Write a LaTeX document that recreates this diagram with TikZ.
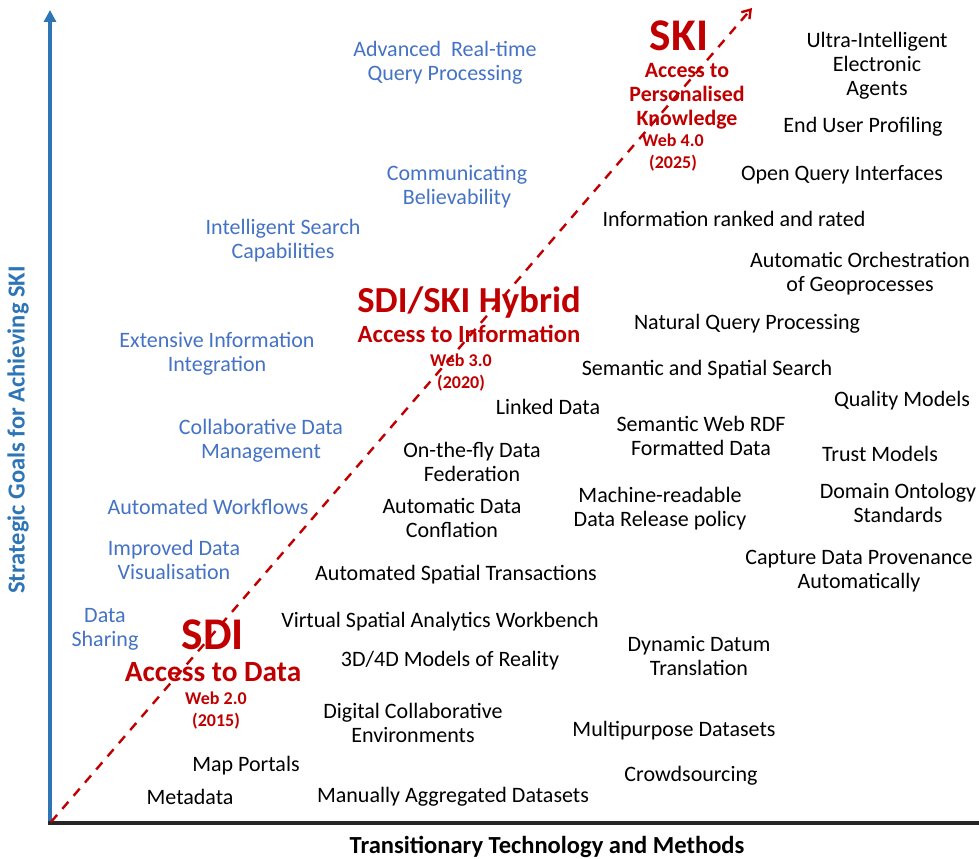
\documentclass[tikz,border=0pt]{standalone}
\usepackage{fontspec}
\setmainfont{Carlito}
\usepackage{tikz}
\usetikzlibrary{arrows.meta}

\definecolor{goalblue}{RGB}{68,114,196}
\definecolor{axisblue}{RGB}{46,117,182}
\definecolor{skired}{RGB}{192,0,0}

\tikzset{
  goal/.style={text=goalblue,align=center,font=\fontsize{16.5}{18}\selectfont},
  tech/.style={text=black,align=center,font=\fontsize{16.5}{18}\selectfont},
  stage/.style={text=skired,text depth=0pt,font=\bfseries\fontsize{34}{34}\selectfont},
  access/.style={text=skired,align=center,font=\bfseries\fontsize{#1}{18}\selectfont},
  web/.style={text=skired,align=center,font=\bfseries\fontsize{13.5}{16.5}\selectfont},
  axislabel/.style={font=\bfseries\fontsize{18.4}{20}\selectfont}
}

\begin{document}
\begin{tikzpicture}[x=0.75pt,y=-0.75pt,inner sep=0pt]
    \useasboundingbox (0,0) rectangle (979,859);
    % axes
    \coordinate (O) at (50,823);
    \coordinate (ytop) at (50,10);
    \coordinate (xend) at (979,823);
    \coordinate (tip) at (752,8);
    \draw[axisblue,line width=3pt,-{Triangle[length=9pt,width=9pt]}] (O) -- (ytop);
    \draw[black!85,line width=3pt] ([xshift=-1.5pt]O) -- (xend);
    \draw[skired,line width=1.8pt,dash pattern=on 7pt off 6pt,
      -{Straight Barb[length=6pt,width=8pt]}] ([shift={(1,-1)}]O) -- (tip);
    \node[axislabel,rotate=90,text=axisblue] (ylab) at (18,430) {Strategic Goals for Achieving SKI};
    \node[axislabel] (xlab) at (547,847) {Transitionary Technology and Methods};
    % stages
    \node[stage] (ski) at (679,36) {SKI};
    \node[access=16.4] (skiacc) at (687,96) {Access to\\Personalised\\Knowledge};
    \node[web] (skiweb) at (673,153) {Web 4.0\\(2025)};
    \node[stage,font=\bfseries\fontsize{27.5}{28}\selectfont] (hyb) at (469,300) {SDI/SKI Hybrid};
    \node[access=18.5] (hybacc) at (469,334) {Access to Information};
    \node[web] (hybweb) at (461,373) {Web 3.0\\(2020)};
    \node[stage] (sdi) at (213,635) {SDI};
    \node[access=22] (sdiacc) at (213,672) {Access to Data};
    \node[web] (sdiweb) at (216,711) {Web 2.0\\(2015)};
    % strategic goals
    \node[goal] (advanced) at (445,63) {Advanced\ \ Real-time\\Query Processing};
    \node[goal] (believe) at (457,187) {Communicating\\Believability};
    \node[goal] (search) at (283,241) {Intelligent Search\\Capabilities};
    \node[goal] (integr) at (217,354) {Extensive Information\\Integration};
    \node[goal] (collab) at (261,441) {Collaborative Data\\Management};
    \node[goal] (workfl) at (208,507) {Automated Workflows};
    \node[goal] (visual) at (174,560) {Improved Data\\Visualisation};
    \node[goal] (sharing) at (105,629) {Data\\Sharing};
    % technology and methods
    \node[tech] (ultra) at (877,66) {Ultra-Intelligent\\Electronic\\Agents};
    \node[tech] (profil) at (863,127) {End User Profiling};
    \node[tech] (openq) at (842,175) {Open Query Interfaces};
    \node[tech] (ranked) at (734,219) {Information ranked and rated};
    \node[tech] (orch) at (860,274) {Automatic Orchestration\\of Geoprocesses};
    \node[tech] (natural) at (747,324) {Natural Query Processing};
    \node[tech] (semsp) at (707,370) {Semantic and Spatial Search};
    \node[tech] (quality) at (902,401) {Quality Models};
    \node[tech] (linked) at (548,407) {Linked Data};
    \node[tech] (rdf) at (701,436) {Semantic Web RDF\\Formatted Data};
    \node[tech] (trust) at (880,454) {Trust Models};
    \node[tech] (fly) at (472,462) {On-the-fly Data\\Federation};
    \node[tech] (onto) at (898,503) {Domain Ontology\\Standards};
    \node[tech] (machine) at (660,509) {Machine-readable\\Data Release policy};
    \node[tech] (confl) at (452,518) {Automatic Data\\Conflation};
    \node[tech] (proven) at (859,571) {Capture Data Provenance\\Automatically};
    \node[tech] (transac) at (456,575) {Automated Spatial Transactions};
    \node[tech] (bench) at (440,622) {Virtual Spatial Analytics Workbench};
    \node[tech] (datum) at (699,656) {Dynamic Datum\\Translation};
    \node[tech] (models) at (450,661) {3D/4D Models of Reality};
    \node[tech] (digital) at (413,723) {Digital Collaborative\\Environments};
    \node[tech] (multi) at (674,731) {Multipurpose Datasets};
    \node[tech] (portals) at (246,766) {Map Portals};
    \node[tech] (crowd) at (691,776) {Crowdsourcing};
    \node[tech] (meta) at (190,797) {Metadata};
    \node[tech] (manual) at (453,797) {Manually Aggregated Datasets};
\end{tikzpicture}
\end{document}
